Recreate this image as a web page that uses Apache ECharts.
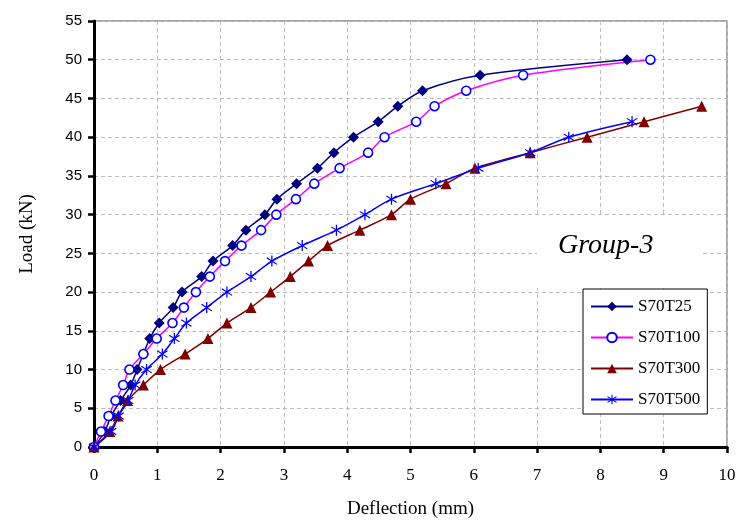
<!DOCTYPE html>
<html>
<head>
<meta charset="utf-8">
<script src="https://cdn.jsdelivr.net/npm/echarts@6/dist/echarts.min.js"></script>
<style>
  html, body { margin: 0; padding: 0; background: #fff; }
  #main { width: 739px; height: 528px; }
</style>
</head>
<body>
<div id="main"></div>
<script>
// load steps (kN) and measured deflections (mm) per specimen
const loadT25 = [0, 2, 4, 6, 8, 10, 12, 14, 16, 18, 20, 22, 24, 26, 28, 30, 32, 34, 36, 38, 40, 42, 44, 46, 48, 50];
const deflT25 = [0, 0.17, 0.27, 0.42, 0.58, 0.68, 0.78, 0.88, 1.03, 1.25, 1.39, 1.70, 1.88, 2.19, 2.40, 2.70, 2.89, 3.20, 3.53, 3.79, 4.10, 4.49, 4.80, 5.19, 6.10, 8.42];

const loadT100 = [0, 2, 4, 6, 8, 10, 12, 14, 16, 18, 20, 22, 24, 26, 28, 30, 32, 34, 36, 38, 40, 42, 44, 46, 48, 50];
const deflT100 = [0, 0.11, 0.23, 0.34, 0.46, 0.56, 0.78, 0.99, 1.24, 1.42, 1.61, 1.83, 2.07, 2.33, 2.64, 2.88, 3.19, 3.48, 3.88, 4.33, 4.59, 5.09, 5.38, 5.88, 6.78, 8.79];

const loadT300 = [0, 2, 4, 6, 8, 10, 12, 14, 16, 18, 20, 22, 24, 26, 28, 30, 32, 34, 36, 38, 40, 42, 44];
const deflT300 = [0, 0.25, 0.38, 0.53, 0.78, 1.05, 1.44, 1.80, 2.10, 2.48, 2.79, 3.10, 3.39, 3.69, 4.20, 4.70, 5.00, 5.56, 6.02, 6.89, 7.79, 8.69, 9.60];

const loadT500 = [0, 2, 4, 6, 8, 10, 12, 14, 16, 18, 20, 22, 24, 26, 28, 30, 32, 34, 36, 38, 40, 42];
const deflT500 = [0, 0.27, 0.39, 0.54, 0.65, 0.83, 1.08, 1.27, 1.46, 1.78, 2.10, 2.48, 2.81, 3.29, 3.83, 4.28, 4.70, 5.40, 6.07, 6.89, 7.50, 8.50];

const serif = "'Liberation Serif', 'DejaVu Serif', serif";
const sans = "'Liberation Sans', Arial, sans-serif";

// asterisk marker: vertical bar plus two diagonals
const asterisk = 'path://M9 0L11 0L11 20L9 20Z' +
  'M2.6 3.2L18.6 15.2L17.4 16.8L1.4 4.8Z' +
  'M1.4 15.2L17.4 3.2L18.6 4.8L2.6 16.8Z';

function pairs(xs, ys) {
  return xs.map((x, i) => [x, ys[i]]);
}

let chart = echarts.init(document.getElementById('main'));
chart.setOption({
  animation: false,
  backgroundColor: '#fff',
  grid: {
    left: 94, right: 12, top: 21, bottom: 81,
    show: true, borderColor: '#8c8c8c', borderWidth: 1.5
  },
  xAxis: {
    type: 'value',
    min: 0, max: 10, interval: 1,
    name: 'Deflection (mm)',
    nameLocation: 'middle',
    nameGap: 53,
    nameTextStyle: { fontFamily: serif, fontSize: 19, color: '#000' },
    axisLine: { onZero: false, lineStyle: { color: '#000', width: 3 } },
    axisTick: { show: true, inside: false, length: 6, lineStyle: { color: '#000', width: 2.5 } },
    axisLabel: { margin: 20, fontFamily: serif, fontSize: 17, color: '#000' },
    splitLine: { show: true, lineStyle: { color: '#bdbdbd', type: [4, 3], width: 1 } }
  },
  yAxis: {
    type: 'value',
    min: 0, max: 55, interval: 5,
    name: 'Load (kN)',
    nameLocation: 'middle',
    nameGap: 57,
    nameTextStyle: { fontFamily: serif, fontSize: 19, color: '#000' },
    axisLine: { show: true, onZero: false, lineStyle: { color: '#000', width: 3 } },
    axisTick: { show: true, inside: false, length: 6, lineStyle: { color: '#000', width: 2.5 } },
    axisLabel: { margin: 12, fontFamily: sans, fontSize: 15, color: '#000' },
    splitLine: { show: true, lineStyle: { color: '#bdbdbd', type: [4, 3], width: 1 } }
  },
  legend: {
    orient: 'vertical',
    left: 583, top: 289,
    padding: [9, 7, 6, 7],
    itemWidth: 42, itemHeight: 12, itemGap: 14,
    borderColor: '#000', borderWidth: 1,
    backgroundColor: '#fff',
    textStyle: { fontFamily: serif, fontSize: 17, color: '#000' },
    data: ['S70T25', 'S70T100', 'S70T300', 'S70T500']
  },
  graphic: [
    {
      type: 'rect', z: 1,
      shape: { x: 537, y: 217, width: 166, height: 71 },
      style: { fill: '#fff' }
    },
    {
      type: 'text', z: 1,
      left: 558, top: 232,
      style: { text: 'Group-3', font: "italic 28px 'Liberation Serif'", fill: '#000' }
    }
  ],
  series: [
    {
      name: 'S70T25', type: 'line', smooth: 0.3,
      data: pairs(deflT25, loadT25),
      symbol: 'diamond', symbolSize: 11,
      lineStyle: { color: '#000080', width: 1.5 },
      itemStyle: { color: '#000080' }
    },
    {
      name: 'S70T100', type: 'line', smooth: 0.3,
      data: pairs(deflT100, loadT100),
      symbol: 'circle', symbolSize: 9,
      lineStyle: { color: '#ff00ff', width: 1.5 },
      itemStyle: { color: '#fff', borderColor: '#0000ff', borderWidth: 1.6 }
    },
    {
      name: 'S70T300', type: 'line', smooth: 0.3,
      data: pairs(deflT300, loadT300),
      symbol: 'triangle', symbolSize: 11,
      lineStyle: { color: '#800000', width: 1.5 },
      itemStyle: { color: '#800000' }
    },
    {
      name: 'S70T500', type: 'line', smooth: 0.3,
      data: pairs(deflT500, loadT500),
      symbol: asterisk, symbolSize: 11,
      lineStyle: { color: '#0000ff', width: 1.5 },
      itemStyle: { color: '#0000ff' }
    }
  ]
});
</script>
</body>
</html>
